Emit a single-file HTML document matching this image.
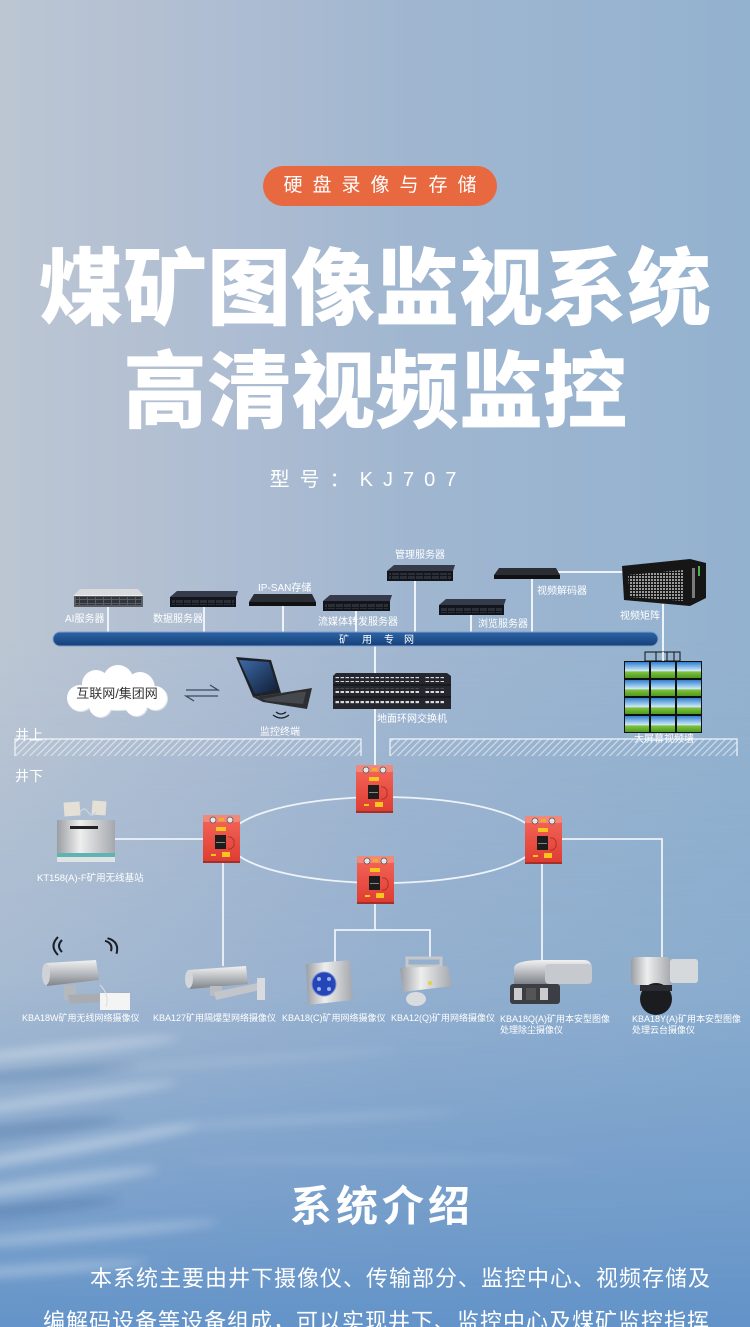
<!DOCTYPE html>
<html><head><meta charset="utf-8">
<style>
html{margin:0;padding:0;width:750px;height:1327px;overflow:hidden;}
body{margin:0;padding:0;width:750px;height:1327px;position:relative;overflow:hidden;
background:
linear-gradient(180deg, rgba(0,0,0,0) 0px, rgba(0,0,0,0) 640px, rgba(118,160,204,0.30) 980px, rgba(104,150,201,0.75) 1200px, rgba(95,145,200,0.95) 1327px),
linear-gradient(90deg,#bcc6d3 0%,#aebdd2 30%,#a0b6d0 55%,#93b2cf 100%);
font-family:"Liberation Sans","Noto Sans CJK SC",sans-serif;}
.abs{position:absolute;}
.pill{left:263px;top:166px;width:234px;height:40px;border-radius:20px;background:#e8683f;color:#fff;font-size:19px;letter-spacing:10px;line-height:40px;text-align:center;text-indent:10px;font-family:"Liberation Sans","Noto Sans CJK SC",sans-serif;}
.t1,.t2{left:0;width:750px;text-align:center;color:#fff;font-size:84px;line-height:84px;font-weight:900;font-family:"Liberation Sans","Noto Sans CJK SC",sans-serif;white-space:nowrap;}
.t1{top:247px;}
.t2{top:350px;}
.model{left:-7px;width:750px;text-align:center;top:466px;color:#fff;font-size:20px;line-height:28px;letter-spacing:10px;}
.h2{left:0;width:750px;text-align:center;top:1182px;color:#fff;font-size:42px;line-height:50px;font-weight:700;letter-spacing:4px;text-indent:14px;}
.para{left:43px;top:1257px;color:#fff;font-size:22px;line-height:43px;letter-spacing:1px;white-space:nowrap;}
svg{position:absolute;left:0;top:0;}
</style></head>
<body>
<svg width="750" height="1327" viewBox="0 0 750 1327">
<defs>
<filter id="blur6" x="-50%" y="-50%" width="200%" height="200%"><feGaussianBlur stdDeviation="5"/></filter>
</defs>
<!-- water ripples -->
<g filter="url(#blur6)" opacity="0.9">
<ellipse cx="60" cy="1050" rx="120" ry="6" fill="rgba(255,255,255,0.35)" transform="rotate(-6 60 1050)"/>
<ellipse cx="30" cy="1075" rx="110" ry="5" fill="rgba(70,110,160,0.35)" transform="rotate(-5 30 1075)"/>
<ellipse cx="50" cy="1100" rx="130" ry="6" fill="rgba(255,255,255,0.35)" transform="rotate(-8 50 1100)"/>
<ellipse cx="20" cy="1130" rx="100" ry="6" fill="rgba(60,100,150,0.35)" transform="rotate(-6 20 1130)"/>
<ellipse cx="60" cy="1150" rx="140" ry="6" fill="rgba(255,255,255,0.4)" transform="rotate(-10 60 1150)"/>
<ellipse cx="40" cy="1185" rx="120" ry="7" fill="rgba(255,255,255,0.35)" transform="rotate(-8 40 1185)"/>
<ellipse cx="20" cy="1210" rx="100" ry="6" fill="rgba(60,100,150,0.35)" transform="rotate(-6 20 1210)"/>
<ellipse cx="70" cy="1235" rx="150" ry="6" fill="rgba(255,255,255,0.3)" transform="rotate(-5 70 1235)"/>
<ellipse cx="30" cy="1270" rx="120" ry="6" fill="rgba(255,255,255,0.3)" transform="rotate(-4 30 1270)"/>
<ellipse cx="300" cy="1120" rx="160" ry="4" fill="rgba(255,255,255,0.18)" transform="rotate(-3 300 1120)"/>
<ellipse cx="380" cy="1160" rx="200" ry="4" fill="rgba(255,255,255,0.12)"/>
<ellipse cx="250" cy="1060" rx="150" ry="4" fill="rgba(255,255,255,0.15)" transform="rotate(-4 250 1060)"/>
</g>
<defs>
<linearGradient id="red" x1="0" y1="0" x2="0" y2="1"><stop offset="0" stop-color="#f5675b"/><stop offset="1" stop-color="#de3b30"/></linearGradient>
<linearGradient id="silver" x1="0" y1="0" x2="0" y2="1"><stop offset="0" stop-color="#f2f2f2"/><stop offset="0.5" stop-color="#b9bcc0"/><stop offset="1" stop-color="#80848a"/></linearGradient>
<linearGradient id="silverH" x1="0" y1="0" x2="1" y2="0"><stop offset="0" stop-color="#9a9ea3"/><stop offset="0.4" stop-color="#eeeeee"/><stop offset="1" stop-color="#a4a8ad"/></linearGradient>
<linearGradient id="bar" x1="0" y1="0" x2="0" y2="1"><stop offset="0" stop-color="#2d64a6"/><stop offset="1" stop-color="#163f78"/></linearGradient>
<linearGradient id="sky" x1="0" y1="0" x2="0" y2="1"><stop offset="0" stop-color="#2f7fd0"/><stop offset="0.55" stop-color="#cfeaf7"/><stop offset="0.62" stop-color="#7fc23c"/><stop offset="1" stop-color="#4e9a22"/></linearGradient>
<linearGradient id="scr" x1="0" y1="0" x2="1" y2="1"><stop offset="0" stop-color="#3d6aa8"/><stop offset="1" stop-color="#0f1c34"/></linearGradient>
<pattern id="hatch" width="5" height="5" patternUnits="userSpaceOnUse" patternTransform="rotate(45)"><rect width="1.2" height="5" fill="rgba(255,255,255,0.55)"/></pattern>
<pattern id="ports" width="5" height="5" patternUnits="userSpaceOnUse"><rect x="0.5" y="1" width="3.5" height="2.2" fill="#d8dade"/></pattern>
<pattern id="grid" width="3" height="3" patternUnits="userSpaceOnUse"><rect width="2" height="2" fill="#9a9a9a"/></pattern>
<pattern id="bays" width="8" height="4" patternUnits="userSpaceOnUse"><rect width="7" height="3" fill="#2b2f38"/></pattern>
</defs>

<!-- connectors top -->
<g stroke="#eef3f9" stroke-width="2" fill="none">
<line x1="108" y1="605" x2="108" y2="633"/>
<line x1="204" y1="605" x2="204" y2="633"/>
<line x1="283" y1="604" x2="283" y2="633"/>
<line x1="356" y1="609" x2="356" y2="633"/>
<line x1="415" y1="579" x2="415" y2="633"/>
<line x1="471" y1="613" x2="471" y2="633"/>
<line x1="532" y1="577" x2="532" y2="633"/>
<line x1="556" y1="572" x2="624" y2="572"/>
<line x1="663" y1="604" x2="663" y2="653"/>
<line x1="375" y1="645" x2="375" y2="766"/>
</g>

<!-- AI server -->
<g>
<polygon points="80,589 138,589 143,595 74,595" fill="#d9dadc"/>
<rect x="74" y="595" width="69" height="12" fill="#5a5d62"/>
<rect x="76" y="597" width="65" height="8" fill="url(#bays)" opacity="0.9"/>
<rect x="74" y="595" width="69" height="1" fill="#eee"/>
</g>
<!-- data server -->
<g>
<polygon points="177,591 238,591 236,597 170,597" fill="#353b4a"/>
<rect x="170" y="597" width="66" height="10" fill="#12151c"/>
<rect x="172" y="599" width="62" height="6" fill="url(#bays)"/>
</g>
<!-- IP-SAN -->
<g>
<polygon points="254,594 312,594 316,602 249,602" fill="#2a2d33"/>
<rect x="249" y="602" width="67" height="4" fill="#111"/>
</g>
<!-- streaming -->
<g>
<polygon points="330,595 392,595 390,601 323,601" fill="#353b4a"/>
<rect x="323" y="601" width="67" height="10" fill="#12151c"/>
<rect x="325" y="603" width="63" height="6" fill="url(#bays)"/>
</g>
<!-- management -->
<g>
<polygon points="394,565 455,565 453,571 387,571" fill="#353b4a"/>
<rect x="387" y="571" width="66" height="10" fill="#12151c"/>
<rect x="389" y="573" width="62" height="6" fill="url(#bays)"/>
</g>
<!-- browse -->
<g>
<polygon points="446,599 506,599 504,605 439,605" fill="#353b4a"/>
<rect x="439" y="605" width="65" height="10" fill="#12151c"/>
<rect x="441" y="607" width="61" height="6" fill="url(#bays)"/>
</g>
<!-- decoder -->
<g>
<polygon points="499,568 556,568 560,575 494,575" fill="#2a2d33"/>
<rect x="494" y="575" width="66" height="4" fill="#111"/>
</g>
<!-- matrix -->
<g>
<polygon points="622,566 690,559 706,563 706,598 690,606 624,600" fill="#161616"/>
<polygon points="628,575 684,570 684,601 630,597" fill="url(#grid)"/>
<rect x="692" y="568" width="3" height="30" fill="#7a7a7a"/>
<rect x="698" y="566" width="2" height="10" fill="#4caf50"/>
</g>

<!-- network bar -->
<rect x="53" y="632" width="605" height="14" rx="7" fill="url(#bar)" stroke="#7f9fcc" stroke-width="1"/>
<g fill="#fff" font-size="10" font-family="Liberation Sans, Noto Sans CJK SC, sans-serif">
<text x="339" y="643">矿</text><text x="362" y="643">用</text><text x="384" y="643">专</text><text x="404" y="643">网</text>
</g>

<!-- top labels -->
<g fill="#fff" font-size="10" font-family="Liberation Sans, Noto Sans CJK SC, sans-serif">
<text x="65" y="622">AI服务器</text>
<text x="153" y="622">数据服务器</text>
<text x="258" y="591">IP-SAN存储</text>
<text x="318" y="625">流媒体转发服务器</text>
<text x="395" y="558">管理服务器</text>
<text x="478" y="627">浏览服务器</text>
<text x="537" y="594">视频解码器</text>
<text x="620" y="619">视频矩阵</text>
<text x="377" y="722">地面环网交换机</text>
<text x="260" y="735">监控终端</text>
<text x="634" y="742">大屏幕视频墙</text>
</g>

<!-- video wall -->
<g>
<rect x="645" y="652" width="35" height="9" fill="none" stroke="#111" stroke-width="1"/>
<line x1="656" y1="652" x2="656" y2="661" stroke="#111"/>
<line x1="667" y1="652" x2="667" y2="661" stroke="#111"/>
<line x1="674" y1="652" x2="674" y2="661" stroke="#111"/>
<line x1="663" y1="652" x2="663" y2="661" stroke="#fff" stroke-width="1.5"/>
<rect x="624" y="661" width="78" height="72" fill="#111"/>
<g fill="url(#sky)">
<rect x="625" y="662" width="24" height="16"/><rect x="651" y="662" width="24" height="16"/><rect x="677" y="662" width="24" height="16"/>
<rect x="625" y="680" width="24" height="16"/><rect x="651" y="680" width="24" height="16"/><rect x="677" y="680" width="24" height="16"/>
<rect x="625" y="698" width="24" height="16"/><rect x="651" y="698" width="24" height="16"/><rect x="677" y="698" width="24" height="16"/>
<rect x="625" y="716" width="24" height="16"/><rect x="651" y="716" width="24" height="16"/><rect x="677" y="716" width="24" height="16"/>
</g>
</g>

<!-- cloud -->
<g>
<g fill="#dfe3e8" transform="translate(1,1)">
<circle cx="80" cy="698" r="13"/><circle cx="96" cy="684" r="14"/><circle cx="118" cy="680" r="15"/><circle cx="140" cy="686" r="14"/><circle cx="155" cy="698" r="12"/><circle cx="136" cy="705" r="11"/><circle cx="100" cy="706" r="11"/><ellipse cx="116" cy="696" rx="44" ry="14"/>
</g>
<g fill="#fff">
<circle cx="80" cy="698" r="13"/><circle cx="96" cy="684" r="14"/><circle cx="118" cy="680" r="15"/><circle cx="140" cy="686" r="14"/><circle cx="155" cy="698" r="12"/><circle cx="136" cy="705" r="11"/><circle cx="100" cy="706" r="11"/><ellipse cx="116" cy="696" rx="44" ry="14"/>
</g>
<text x="117" y="698" text-anchor="middle" fill="#333" font-size="13" font-family="Liberation Sans, Noto Sans CJK SC, sans-serif">互联网/集团网</text>
</g>
<!-- arrows -->
<g stroke="#3d4a5e" stroke-width="1.3" fill="none">
<polyline points="186,690 218,690 210,685"/>
<polyline points="218,696 186,696 194,701"/>
</g>
<!-- laptop -->
<g>
<polygon points="236,657 271,660 281,693 253,697" fill="#1e2228"/>
<polygon points="239,660 269,662 278,690 255,694" fill="url(#scr)"/>
<polygon points="253,697 281,693 312,688 307,709 263,702" fill="#2c2e32"/>
<polygon points="262,699 300,692 306,692 303,704 268,701" fill="#45484d"/>
</g>
<g stroke="#1c2230" stroke-width="1.3" fill="none">
<path d="M276 712 q5 4 10 0"/><path d="M273 715 q8 6 16 0"/>
</g>
<!-- switch -->
<g>
<polygon points="336,673 447,673 451,676 451,709 333,709 333,676" fill="#24272d"/>
<rect x="335" y="677" width="85" height="5" fill="url(#ports)"/>
<rect x="335" y="688" width="85" height="5" fill="url(#ports)"/>
<rect x="335" y="699" width="85" height="5" fill="url(#ports)"/>
<rect x="425" y="677" width="20" height="5" fill="url(#ports)"/>
<rect x="425" y="688" width="20" height="5" fill="url(#ports)"/>
<rect x="425" y="699" width="20" height="5" fill="url(#ports)"/>
<line x1="333" y1="685" x2="451" y2="685" stroke="#0c0d10"/>
<line x1="333" y1="697" x2="451" y2="697" stroke="#0c0d10"/>
</g>

<!-- ground strips -->
<g>
<rect x="15" y="739" width="346" height="17" fill="url(#hatch)"/>
<polyline points="15,756 15,739 361,739 361,756" fill="none" stroke="#f2f5f9" stroke-width="1.2"/>
<rect x="390" y="739" width="347" height="17" fill="url(#hatch)"/>
<polyline points="390,756 390,739 737,739 737,756" fill="none" stroke="#f2f5f9" stroke-width="1.2"/>
</g>
<g fill="#fff" font-size="14" font-family="Liberation Sans, Noto Sans CJK SC, sans-serif">
<text x="15" y="740">井上</text>
<text x="15" y="781">井下</text>
</g>

<!-- lower connectors -->
<g stroke="#eef3f9" stroke-width="1.8" fill="none">
<ellipse cx="383" cy="840" rx="155" ry="43"/>
<line x1="115" y1="839" x2="203" y2="839"/>
<line x1="223" y1="862" x2="223" y2="966"/>
<polyline points="375,904 375,930"/>
<polyline points="335,962 335,930 430,930 430,958"/>
<polyline points="562,839 662,839 662,957"/>
<line x1="542" y1="864" x2="542" y2="962"/>
</g>

<!-- red boxes -->
<g transform="translate(356,765)">
<rect x="0" y="0" width="37" height="48" rx="2" fill="url(#red)"/>
<rect x="0" y="0" width="37" height="7" rx="2" fill="#f0897c"/>
<circle cx="10" cy="5" r="3" fill="#e6e6e6" stroke="#555" stroke-width="0.8"/>
<circle cx="27" cy="5" r="3" fill="#e6e6e6" stroke="#555" stroke-width="0.8"/>
<rect x="16" y="3" width="5" height="3" fill="#f2b01e"/>
<rect x="13" y="12" width="10" height="4" fill="#f7c51d"/>
<rect x="12" y="20" width="11" height="14" fill="#1d1d1d"/>
<rect x="13" y="27" width="9" height="1" fill="#888"/>
<path d="M25 22 h3 l3 3 v6 l-3 3 h-3" fill="none" stroke="#9c2a20" stroke-width="0.8"/>
<rect x="8" y="39" width="5" height="2" fill="#f7c51d"/>
<rect x="19" y="37" width="8" height="5" fill="#f7c51d"/>
<rect x="0" y="46" width="37" height="2" fill="#a3302a"/>
</g>
<g transform="translate(203,815)">
<rect x="0" y="0" width="37" height="48" rx="2" fill="url(#red)"/>
<rect x="0" y="0" width="37" height="7" rx="2" fill="#f0897c"/>
<circle cx="10" cy="5" r="3" fill="#e6e6e6" stroke="#555" stroke-width="0.8"/>
<circle cx="27" cy="5" r="3" fill="#e6e6e6" stroke="#555" stroke-width="0.8"/>
<rect x="16" y="3" width="5" height="3" fill="#f2b01e"/>
<rect x="13" y="12" width="10" height="4" fill="#f7c51d"/>
<rect x="12" y="20" width="11" height="14" fill="#1d1d1d"/>
<rect x="13" y="27" width="9" height="1" fill="#888"/>
<path d="M25 22 h3 l3 3 v6 l-3 3 h-3" fill="none" stroke="#9c2a20" stroke-width="0.8"/>
<rect x="8" y="39" width="5" height="2" fill="#f7c51d"/>
<rect x="19" y="37" width="8" height="5" fill="#f7c51d"/>
<rect x="0" y="46" width="37" height="2" fill="#a3302a"/>
</g>
<g transform="translate(525,816)">
<rect x="0" y="0" width="37" height="48" rx="2" fill="url(#red)"/>
<rect x="0" y="0" width="37" height="7" rx="2" fill="#f0897c"/>
<circle cx="10" cy="5" r="3" fill="#e6e6e6" stroke="#555" stroke-width="0.8"/>
<circle cx="27" cy="5" r="3" fill="#e6e6e6" stroke="#555" stroke-width="0.8"/>
<rect x="16" y="3" width="5" height="3" fill="#f2b01e"/>
<rect x="13" y="12" width="10" height="4" fill="#f7c51d"/>
<rect x="12" y="20" width="11" height="14" fill="#1d1d1d"/>
<rect x="13" y="27" width="9" height="1" fill="#888"/>
<path d="M25 22 h3 l3 3 v6 l-3 3 h-3" fill="none" stroke="#9c2a20" stroke-width="0.8"/>
<rect x="8" y="39" width="5" height="2" fill="#f7c51d"/>
<rect x="19" y="37" width="8" height="5" fill="#f7c51d"/>
<rect x="0" y="46" width="37" height="2" fill="#a3302a"/>
</g>
<g transform="translate(357,856)">
<rect x="0" y="0" width="37" height="48" rx="2" fill="url(#red)"/>
<rect x="0" y="0" width="37" height="7" rx="2" fill="#f0897c"/>
<circle cx="10" cy="5" r="3" fill="#e6e6e6" stroke="#555" stroke-width="0.8"/>
<circle cx="27" cy="5" r="3" fill="#e6e6e6" stroke="#555" stroke-width="0.8"/>
<rect x="16" y="3" width="5" height="3" fill="#f2b01e"/>
<rect x="13" y="12" width="10" height="4" fill="#f7c51d"/>
<rect x="12" y="20" width="11" height="14" fill="#1d1d1d"/>
<rect x="13" y="27" width="9" height="1" fill="#888"/>
<path d="M25 22 h3 l3 3 v6 l-3 3 h-3" fill="none" stroke="#9c2a20" stroke-width="0.8"/>
<rect x="8" y="39" width="5" height="2" fill="#f7c51d"/>
<rect x="19" y="37" width="8" height="5" fill="#f7c51d"/>
<rect x="0" y="46" width="37" height="2" fill="#a3302a"/>
</g>

<!-- base station -->
<g>
<rect x="64" y="802" width="16" height="14" fill="#e4e0d6" transform="rotate(-4 72 809)"/>
<rect x="92" y="801" width="14" height="14" fill="#e4e0d6" transform="rotate(4 99 808)"/>
<path d="M80 812 q4 -6 8 0 q4 6 8 0" stroke="#c9d3de" stroke-width="1.5" fill="none"/>
<rect x="57" y="820" width="58" height="35" fill="url(#silverH)"/>
<rect x="70" y="826" width="28" height="3" fill="#222"/>
<rect x="57" y="853" width="58" height="4" fill="#5fb3b0"/>
<rect x="57" y="857" width="58" height="5" fill="#dfe3e6"/>
</g>
<text x="37" y="881" fill="#fff" font-size="9.5" font-family="Liberation Sans, Noto Sans CJK SC, sans-serif">KT158(A)-F矿用无线基站</text>

<!-- cameras -->
<g>
<g stroke="#1a1f28" stroke-width="2" fill="none">
<path d="M62 940 q-6 6 0 12"/><path d="M58 937 q-9 9 0 18"/>
<path d="M108 940 q6 6 0 12" transform="rotate(-30 108 946)"/><path d="M112 937 q9 9 0 18" transform="rotate(-30 112 946)"/>
</g>
<polygon points="46,963 96,960 99,980 47,986" fill="url(#silver)"/>
<ellipse cx="46" cy="974" rx="4" ry="11" fill="#cfd2d6"/>
<rect x="64" y="985" width="12" height="15" fill="#b5b8bc"/>
<polygon points="68,995 128,992 130,1000 70,1004" fill="#a9adb2"/>
<rect x="100" y="993" width="30" height="17" fill="#f4f4f4"/>
<path d="M100 985 q10 10 6 22" stroke="#ddd" fill="none"/>
</g>
<g>
<polygon points="188,970 246,966 248,984 190,989" fill="url(#silver)"/>
<ellipse cx="189" cy="979" rx="4" ry="9" fill="#d3d6da"/>
<rect x="210" y="986" width="12" height="10" fill="#b9bcc0"/>
<polygon points="214,992 258,983 260,990 216,1000" fill="#c2c5c9"/>
<rect x="257" y="978" width="8" height="22" fill="#d9dbde"/>
</g>
<g>
<polygon points="306,964 350,960 353,1000 308,1005" fill="url(#silverH)"/>
<circle cx="324" cy="984" r="12" fill="#2546b8" stroke="#7a8fcf" stroke-width="1"/>
<circle cx="319" cy="979" r="2" fill="#9db0e6"/><circle cx="329" cy="979" r="2" fill="#9db0e6"/>
<circle cx="319" cy="989" r="2" fill="#9db0e6"/><circle cx="329" cy="989" r="2" fill="#9db0e6"/>
</g>
<g>
<rect x="407" y="958" width="34" height="8" fill="none" stroke="#c5c7ca" stroke-width="3"/>
<polygon points="400,968 448,966 452,986 403,992" fill="url(#silverH)"/>
<ellipse cx="416" cy="999" rx="10" ry="7" fill="#d9dcdf"/>
<circle cx="430" cy="983" r="2" fill="#e5d23a"/>
</g>
<g>
<path d="M514 968 q0 -8 30 -8 h40 q8 0 8 10 v8 q0 6 -8 6 h-70 z" fill="url(#silver)"/>
<rect x="545" y="964" width="47" height="20" rx="4" fill="#c6c9cd"/>
<rect x="510" y="984" width="50" height="20" rx="3" fill="#3b3e44"/>
<rect x="514" y="988" width="8" height="12" fill="#ccc"/><rect x="526" y="988" width="10" height="12" fill="#555"/><rect x="540" y="988" width="8" height="12" fill="#ccc"/>
</g>
<g>
<rect x="631" y="957" width="40" height="28" rx="4" fill="url(#silverH)"/>
<rect x="670" y="959" width="28" height="24" rx="3" fill="#d6d9dc"/>
<circle cx="656" cy="999" r="16" fill="#1b1c20"/>
<rect x="640" y="985" width="32" height="6" fill="#2a2c31"/>
</g>
<g fill="#fff" font-size="9" font-family="Liberation Sans, Noto Sans CJK SC, sans-serif">
<text x="22" y="1021">KBA18W矿用无线网络摄像仪</text>
<text x="153" y="1021">KBA127矿用隔爆型网络摄像仪</text>
<text x="282" y="1021">KBA18(C)矿用网络摄像仪</text>
<text x="391" y="1021">KBA12(Q)矿用网络摄像仪</text>
<text x="500" y="1022">KBA18Q(A)矿用本安型图像</text>
<text x="500" y="1033">处理除尘摄像仪</text>
<text x="632" y="1022">KBA18Y(A)矿用本安型图像</text>
<text x="632" y="1033">处理云台摄像仪</text>
</g>
</svg>

<div class="abs pill">硬盘录像与存储</div>
<div class="abs t1">煤矿图像监视系统</div>
<div class="abs t2">高清视频监控</div>
<div class="abs model">型号：KJ707</div>
<div class="abs h2">系统介绍</div>
<div class="abs para"><span style="padding-left:47px"></span>本系统主要由井下摄像仪、传输部分、监控中心、视频存储及<br>编解码设备等设备组成，可以实现井下、监控中心及煤矿监控指挥</div>
</body></html>
